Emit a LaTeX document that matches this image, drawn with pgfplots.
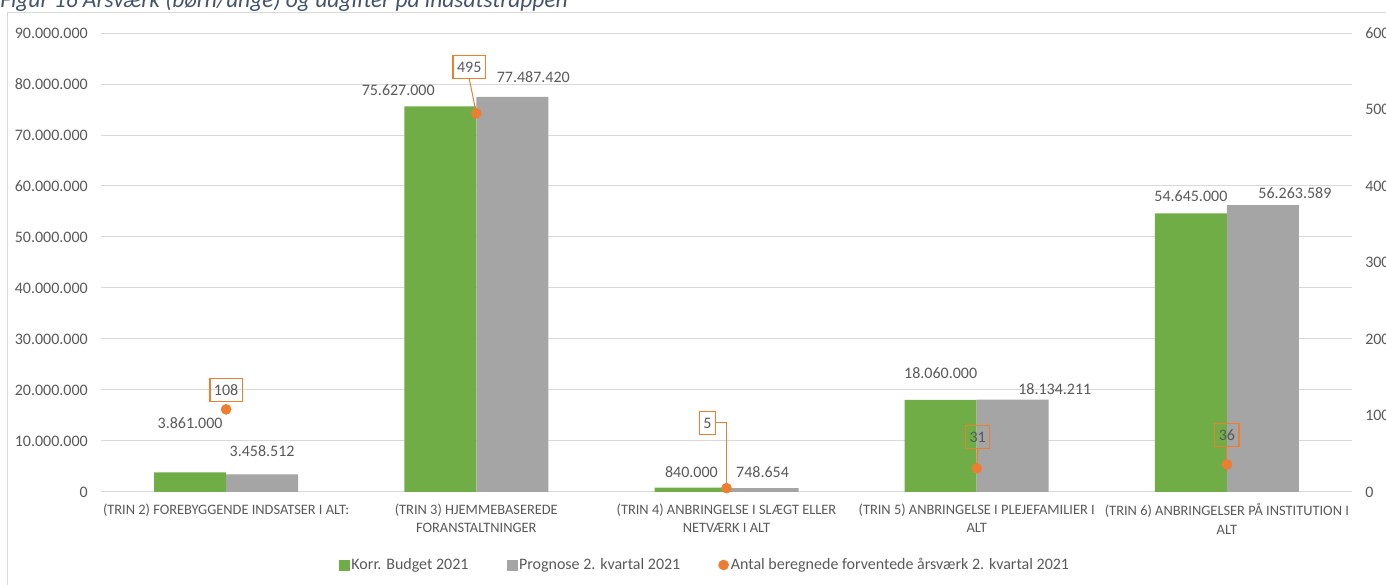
\documentclass[border=0pt]{standalone}
\usepackage{fontspec}
\setmainfont{Carlito}
\usepackage{pgfplots}
\usepackage{pgfplotstable}
\pgfplotsset{compat=1.18}

\definecolor{grn}{HTML}{70AD47}
\definecolor{gry}{HTML}{A5A5A5}
\definecolor{org}{HTML}{ED7D31}
\definecolor{gridc}{HTML}{D9D9D9}
\definecolor{txt}{HTML}{595959}
\definecolor{ttl}{HTML}{44546A}

% udgifter (kr.) og aarsvaerk pr. trin
\pgfplotstableread{
x budget prognose aarsvaerk
0 3861000 3458512 108
1 75627000 77487420 495
2 840000 748654 5
3 18060000 18134211 31
4 54645000 56263589 36
}\trin

\pgfplotsset{
  base/.style={
    scale only axis, width=938.25pt, height=344.25pt,
    xmin=-0.5, xmax=4.5, at={(75.75pt,69.75pt)}, anchor=south west,
    axis line style={draw=none}, major tick length=0pt, clip=false,
    tick label style={text=txt, font=\fontsize{12}{14}\selectfont},
    /pgf/number format/assume math mode=true,
  },
}
\tikzset{
  lab/.style={text=txt, font=\fontsize{12}{14}\selectfont, inner sep=0pt},
  box/.style={draw=org, line width=1pt, text=txt, font=\fontsize{12}{14}\selectfont,
    inner xsep=3pt, minimum height=17pt},
}

\begin{document}
\begin{tikzpicture}
\path[use as bounding box] (0,0) rectangle (1039.5pt,438.75pt);
\clip (0,0) rectangle (1039.5pt,438.75pt);
\draw[gridc, line width=0.75pt] (5.6pt,0) -- (5.6pt,429pt) -- (1039.5pt,429pt);
\node[anchor=base west, inner sep=0pt, text=ttl, font=\itshape\fontsize{17.6}{20}\selectfont, overlay]
  at (0,432.75pt) {Figur 16 Årsværk (børn/unge) og udgifter på indsatstrappen};

\begin{axis}[base,
  ymin=0, ymax=90000000,
  ytick={0,10000000,20000000,30000000,40000000,50000000,60000000,70000000,80000000,90000000},
  scaled y ticks=false,
  yticklabel style={inner sep=0pt, xshift=-9.75pt,
    /pgf/number format/fixed, /pgf/number format/precision=0,
    /pgf/number format/1000 sep={.}},
  ymajorgrids, grid style={gridc, line width=0.75pt},
  ybar=0pt, bar width=54pt,
  xtick={0,1,2,3,4},
  xticklabels={{(TRIN 2) FOREBYGGENDE INDSATSER I ALT:},
    {(TRIN 3) HJEMMEBASEREDE\\FORANSTALTNINGER},
    {(TRIN 4) ANBRINGELSE I SLÆGT ELLER\\NETVÆRK I ALT},
    {(TRIN 5) ANBRINGELSE I PLEJEFAMILIER I\\ALT},
    {(TRIN 6) ANBRINGELSER PÅ INSTITUTION I\\ALT}},
  xticklabel style={font=\fontsize{10.8}{13.8}\selectfont, align=center,
    anchor=north, inner sep=0pt, yshift=-8.5pt},
]
\addplot[fill=grn, draw=none] table[x=x, y=budget]{\trin};
\addplot[fill=gry, draw=none] table[x=x, y=prognose]{\trin};

\node[lab] at (axis cs:-0.144,13530000) {3.861.000};
\node[lab] at (axis cs:0.144,8040000) {3.458.512};
\node[lab] at (axis cs:0.688,78820000) {75.627.000};
\node[lab] at (axis cs:1.228,81370000) {77.487.420};
\node[lab] at (axis cs:1.860,3920000) {840.000};
\node[lab] at (axis cs:2.144,3920000) {748.654};
\node[lab] at (axis cs:2.856,23330000) {18.060.000};
\node[lab] at (axis cs:3.312,20200000) {18.134.211};
\node[lab] at (axis cs:3.856,58040000) {54.645.000};
\node[lab] at (axis cs:4.272,58630000) {56.263.589};
\end{axis}

\begin{axis}[base,
  ymin=0, ymax=600, ytick={0,100,200,300,400,500,600},
  axis y line*=right, xtick=\empty,
  yticklabel style={anchor=west, inner sep=0pt, xshift=9.75pt, overlay},
  legend style={at={(0.4828,-0.159)}, anchor=center, draw=none, fill=none,
    legend columns=3, font=\fontsize{12}{14}\selectfont, text=txt,
    /tikz/every even column/.append style={column sep=27pt},
    nodes={inner sep=1.5pt}},
]
\addlegendimage{legend image code/.code={\fill[grn] (0pt,-3.75pt) rectangle (7.5pt,3.75pt);}}
\addlegendimage{legend image code/.code={\fill[gry] (0pt,-3.75pt) rectangle (7.5pt,3.75pt);}}
\addlegendimage{legend image code/.code={\fill[org] (3.75pt,0pt) circle (3.75pt);}}
\legend{Korr. Budget 2021, Prognose 2. kvartal 2021, Antal beregnede forventede årsværk 2. kvartal 2021}

\node[box] (b0) at (axis cs:0,133.3) {108};
\node[box] (b1) at (axis cs:0.972,555.6) {495};
\node[box] (b2) at (axis cs:1.924,90.2) {5};
\node[box] (b3) at (axis cs:3.004,71.9) {31};
\node[box] (b4) at (axis cs:4,74.5) {36};
\draw[org, line width=0.75pt] (b1.south) -- (axis cs:1,495);
\draw[org, line width=0.75pt] (b2.east) -| (axis cs:2,5);
\draw[org, line width=0.75pt] (b3.south) -- (axis cs:3,31);
\draw[org, line width=0.75pt] (b4.south) -- (axis cs:4,36);

\addplot[only marks, mark=*, mark size=3.75pt, org] table[x=x, y=aarsvaerk]{\trin};
\end{axis}
\end{tikzpicture}
\end{document}
